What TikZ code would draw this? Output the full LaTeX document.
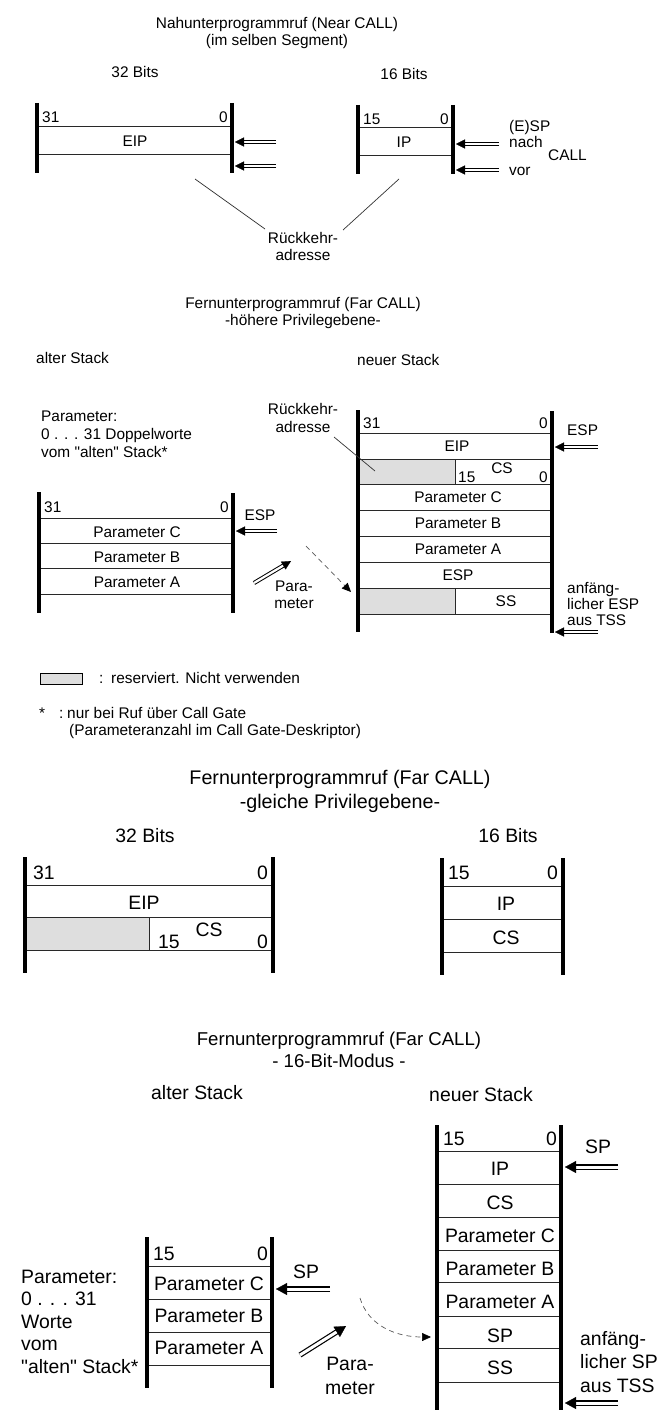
\documentclass[tikz,border=0pt]{standalone}
\usepackage{fontspec}
\setmainfont{Liberation Sans}[Ligatures=TeXOff]
\usetikzlibrary{arrows.meta}
\definecolor{resgray}{RGB}{222,222,222}
\definecolor{linegray}{RGB}{40,40,40}
\newcommand\dblarr[2]{\draw[shaft] (#1) -- (#2); \draw[headln] (#1) -- (#2);}
\newcommand\Dblarr[2]{\draw[Shaft] (#1) -- (#2); \draw[Headln] (#1) -- (#2);}
\begin{document}
\begin{tikzpicture}[x=1pt,y=-1pt,
  bar/.style={line width=4pt},
  Bar/.style={line width=4.5pt},
  cell/.style={line width=1pt, draw=linegray},
  resv/.style={fill=resgray},
  sm/.style={font=\fontsize{15.4}{#1}\selectfont, inner sep=0pt},
  sm/.default=17,
  lg/.style={font=\fontsize{19.4}{#1}\selectfont, inner sep=0pt},
  lg/.default=23,
  chS/.style={text height=11pt, text depth=0pt},
  chL/.style={text height=13.9pt, text depth=0pt},
  shaft/.style={double=white, line width=1pt, double distance=2.2pt, shorten >=5pt},
  headln/.style={draw=white, line width=0.2pt, -{Triangle[length=9pt,width=9pt,color=black,fill=black]}},
  Shaft/.style={double=white, line width=1.2pt, double distance=3pt, shorten >=6pt},
  Headln/.style={draw=white, line width=0.2pt, -{Triangle[length=11pt,width=12pt,color=black,fill=black]}},
  dsh/.style={draw=black!65, line width=0.7pt, dash pattern=on 5pt off 4pt, -{Triangle[length=9pt,width=8pt,color=black,fill=black]}},
  ptr/.style={line width=0.7pt, draw=black!80},
]
\useasboundingbox (0,0) rectangle (658,1410);
\fill[white] (0,0) rectangle (658,1410);

% ================= Section 1 =================
\node[sm=17, align=center, anchor=base] (t1) at (277,45.5) {Nahunterprogrammruf (Near CALL)\\(im selben Segment)};
\node[sm, chS] (b32a) at (135,72) {32 Bits};
\node[sm, chS] (b16a) at (404,74) {16 Bits};
% stack A
\draw[cell] (37,127) -- (232,127) (37,154) -- (232,154);
\draw[bar] (37,103) -- (37,173) (232,103) -- (232,173);
\node[sm, chS, anchor=west] (n31a) at (42,117) {31};
\node[sm, chS, anchor=east] (n0a) at (228,117) {0};
\node[sm, chS] (eipA) at (135,141) {EIP};
\coordinate (a1s) at (276,142); \coordinate (a1t) at (235,142);
\coordinate (a2s) at (276,166); \coordinate (a2t) at (235,166);
\dblarr{a1s}{a1t}
\dblarr{a2s}{a2t}
% stack B
\draw[cell] (358,128) -- (453,128) (358,155) -- (453,155);
\draw[bar] (358,105) -- (358,174) (453,105) -- (453,174);
\node[sm, chS, anchor=west] (n15b) at (363,119) {15};
\node[sm, chS, anchor=east] (n0b) at (449,119) {0};
\node[sm, chS] (ipB) at (404,142) {IP};
\coordinate (b1s) at (499,144); \coordinate (b1t) at (456,144);
\coordinate (b2s) at (499,170); \coordinate (b2t) at (456,170);
\dblarr{b1s}{b1t}
\dblarr{b2s}{b2t}
\node[sm=16, align=left, anchor=base west] (esp1) at (509,147.5) {(E)SP\\nach};
\node[sm, chS, anchor=west] (call1) at (548,155) {CALL};
\node[sm, chS, anchor=west] (vor1) at (509,170) {vor};
% return address
\node[sm=17, align=center, anchor=base] (rk1) at (303,260.5) {Rückkehr-\\adresse};
\coordinate (rk1a) at (195,179); \coordinate (rk1b) at (265,229);
\coordinate (rk1c) at (399,179); \coordinate (rk1d) at (343,230);
\draw[ptr] (rk1a) -- (rk1b);
\draw[ptr] (rk1c) -- (rk1d);

% ================= Section 2 =================
\node[sm=17, align=center, anchor=base] (t2) at (303,325.5) {Fernunterprogrammruf (Far CALL)\\-höhere Privilegebene-};
\node[sm, chS, anchor=west] (alt2) at (36,358) {alter Stack};
\node[sm, chS, anchor=west] (neu2) at (357,360) {neuer Stack};
\node[sm=18, align=left, anchor=base west] (par2) at (41,457.5) {Parameter:\\0 . . . 31 Doppelworte\\vom "alten" Stack*};
% old stack C
\draw[cell] (39,518) -- (233,518) (39,543) -- (233,543) (39,568) -- (233,568) (39,594) -- (233,594);
\draw[bar] (39,492) -- (39,613) (233,493) -- (233,613);
\node[sm, chS, anchor=west] (n31c) at (44,507) {31};
\node[sm, chS, anchor=east] (n0c) at (229,507) {0};
\node[sm, chS] (pCc) at (137,532) {Parameter C};
\node[sm, chS] (pBc) at (137,557) {Parameter B};
\node[sm, chS] (pAc) at (137,582) {Parameter A};
\node[sm, chS] (espc) at (260,515) {ESP};
\coordinate (c1s) at (277,531); \coordinate (c1t) at (236,531);
\dblarr{c1s}{c1t}
% parameter transfer
\coordinate (pm2s) at (254,583); \coordinate (pm2t) at (291,561);
\dblarr{pm2s}{pm2t}
\node[sm=17, align=center, anchor=base] (para2) at (294,608.5) {Para-\\meter};
\coordinate (ds2s) at (306,546); \coordinate (ds2t) at (351,592);
\draw[dsh] (ds2s) -- (ds2t);
% new stack D
\fill[resv] (358,459) rectangle (455,484);
\fill[resv] (358,588) rectangle (455,614);
\draw[cell] (358,433) -- (552,433) (358,459) -- (552,459) (358,484) -- (552,484)
            (358,510) -- (552,510) (358,536) -- (552,536) (358,562) -- (552,562)
            (358,588) -- (552,588) (358,614) -- (552,614);
\draw[cell] (455,459) -- (455,484) (455,588) -- (455,614);
\draw[bar] (358,410) -- (358,632) (552,411) -- (552,633);
\node[sm, chS, anchor=west] (n31d) at (363,423) {31};
\node[sm, chS, anchor=east] (n0d) at (548,423) {0};
\node[sm, chS] (eipD) at (457,446) {EIP};
\node[sm, chS] (csD) at (502,468) {CS};
\node[sm, chS, anchor=west] (n15d) at (458,477) {15};
\node[sm, chS, anchor=east] (n0d2) at (548,477) {0};
\node[sm, chS] (pCd) at (458,497) {Parameter C};
\node[sm, chS] (pBd) at (458,523) {Parameter B};
\node[sm, chS] (pAd) at (458,549) {Parameter A};
\node[sm, chS] (espD) at (458,575) {ESP};
\node[sm, chS] (ssD) at (506,601) {SS};
\node[sm, chS, anchor=west] (espd) at (567,430) {ESP};
\coordinate (d1s) at (598,447); \coordinate (d1t) at (555,447);
\dblarr{d1s}{d1t}
\node[sm=15.8, align=left, anchor=base west] (anf2) at (567,625.1) {anfäng-\\licher ESP\\aus TSS};
\coordinate (d2s) at (598,632); \coordinate (d2t) at (555,632);
\dblarr{d2s}{d2t}
\node[sm=18, align=center, anchor=base] (rk2) at (303,432.5) {Rückkehr-\\adresse};
\coordinate (rk2a) at (334,437); \coordinate (rk2b) at (375,471);
\draw[ptr] (rk2a) -- (rk2b);
% legend
\draw[line width=0.8pt, fill=resgray] (40,673) rectangle (82,684);
\node[sm, chS, anchor=west] (col1) at (99,678) {:};
\node[sm, chS, anchor=west] (leg1) at (111,678) {reserviert. Nicht verwenden};
\node[sm, chS, anchor=west] (star) at (39,713) {*};
\node[sm, chS, anchor=west] (col2) at (59,713) {:};
\node[sm=17, align=left, anchor=base west] (leg2) at (67,735.5) {nur bei Ruf über Call Gate\\\hspace*{2pt}(Parameteranzahl im Call Gate-Deskriptor)};

% ================= Section 3 =================
\node[font=\fontsize{19.7}{24}\selectfont, inner sep=0pt, align=center, anchor=base] (t3) at (340,808) {Fernunterprogrammruf (Far CALL)\\-gleiche Privilegebene-};
\node[lg, chL] (b32c) at (145,836) {32 Bits};
\node[lg, chL] (b16c) at (508,836) {16 Bits};
% stack E
\fill[resv] (25,917) rectangle (149,950);
\draw[cell] (25,885) -- (273,885) (25,917) -- (273,917) (25,950) -- (273,950);
\draw[cell] (149,917) -- (149,950);
\draw[Bar] (25,857) -- (25,973) (273,857) -- (273,973);
\node[lg, chL, anchor=west] (n31e) at (33,873) {31};
\node[lg, chL, anchor=east] (n0e) at (268,873) {0};
\node[lg, chL] (eipE) at (144,903) {EIP};
\node[lg, chL] (csE) at (209,930) {CS};
\node[lg, chL, anchor=west] (n15e) at (158,942) {15};
\node[lg, chL, anchor=east] (n0e2) at (268,942) {0};
% stack F
\draw[cell] (442,886) -- (563,886) (442,919) -- (563,919) (442,952) -- (563,952);
\draw[Bar] (442,858) -- (442,975) (563,858) -- (563,975);
\node[lg, chL, anchor=west] (n15f) at (448,873) {15};
\node[lg, chL, anchor=east] (n0f) at (558,873) {0};
\node[lg, chL] (ipF) at (506,904) {IP};
\node[lg, chL] (csF) at (506,938) {CS};

% ================= Section 4 =================
\node[font=\fontsize{18.6}{22}\selectfont, inner sep=0pt, align=center, anchor=base] (t4) at (339,1067) {Fernunterprogrammruf (Far CALL)\\- 16-Bit-Modus -};
\node[lg, chL] (alt4) at (197,1093) {alter Stack};
\node[lg, chL] (neu4) at (481,1095) {neuer Stack};
% old stack G
\draw[cell] (147,1266) -- (272,1266) (147,1299) -- (272,1299) (147,1332) -- (272,1332) (147,1365) -- (272,1365);
\draw[Bar] (147,1237) -- (147,1388) (272,1237) -- (272,1388);
\node[lg, chL, anchor=west] (n15g) at (153,1254) {15};
\node[lg, chL, anchor=east] (n0g) at (268,1254) {0};
\node[lg, chL] (pCg) at (209,1284) {Parameter C};
\node[lg, chL] (pBg) at (209,1316) {Parameter B};
\node[lg, chL] (pAg) at (209,1348) {Parameter A};
\node[lg=22.5, align=left, anchor=base west] (par4) at (21,1373) {Parameter:\\0 . . . 31\\Worte\\vom\\"alten" Stack*};
\node[lg, chL, anchor=west] (spg) at (293,1272) {SP};
\coordinate (g1s) at (330,1289); \coordinate (g1t) at (276,1289);
\Dblarr{g1s}{g1t}
% parameter transfer
\coordinate (pm4s) at (300,1355); \coordinate (pm4t) at (346,1326);
\Dblarr{pm4s}{pm4t}
\node[lg=24, align=center, anchor=base] (para4) at (350,1394) {Para-\\meter};
\coordinate (ds4s) at (360,1298); \coordinate (ds4t) at (431,1337);
\draw[dsh] (ds4s) .. controls (368,1325) and (395,1337) .. (ds4t);
% new stack H
\draw[cell] (437,1151) -- (561,1151) (437,1184) -- (561,1184) (437,1217) -- (561,1217)
            (437,1250) -- (561,1250) (437,1282) -- (561,1282) (437,1316) -- (561,1316)
            (437,1348) -- (561,1348) (437,1382) -- (561,1382);
\draw[Bar] (437,1125) -- (437,1410) (561,1125) -- (561,1410);
\node[lg, chL, anchor=west] (n15h) at (443,1139) {15};
\node[lg, chL, anchor=east] (n0h) at (557,1139) {0};
\node[lg, chL] (ipH) at (500,1169) {IP};
\node[lg, chL] (csH) at (500,1203) {CS};
\node[lg, chL] (pCh) at (500,1236) {Parameter C};
\node[lg, chL] (pBh) at (500,1269) {Parameter B};
\node[lg, chL] (pAh) at (500,1302) {Parameter A};
\node[lg, chL] (spH) at (500,1336) {SP};
\node[lg, chL] (ssH) at (500,1368) {SS};
\node[lg, chL, anchor=west] (sph) at (585,1147) {SP};
\coordinate (h1s) at (618,1167); \coordinate (h1t) at (565,1167);
\Dblarr{h1s}{h1t}
\node[lg=23.5, align=left, anchor=base west] (anf4) at (580,1392) {anfäng-\\licher SP\\aus TSS};
\coordinate (h2s) at (618,1403); \coordinate (h2t) at (565,1403);
\Dblarr{h2s}{h2t}
\end{tikzpicture}
\end{document}
